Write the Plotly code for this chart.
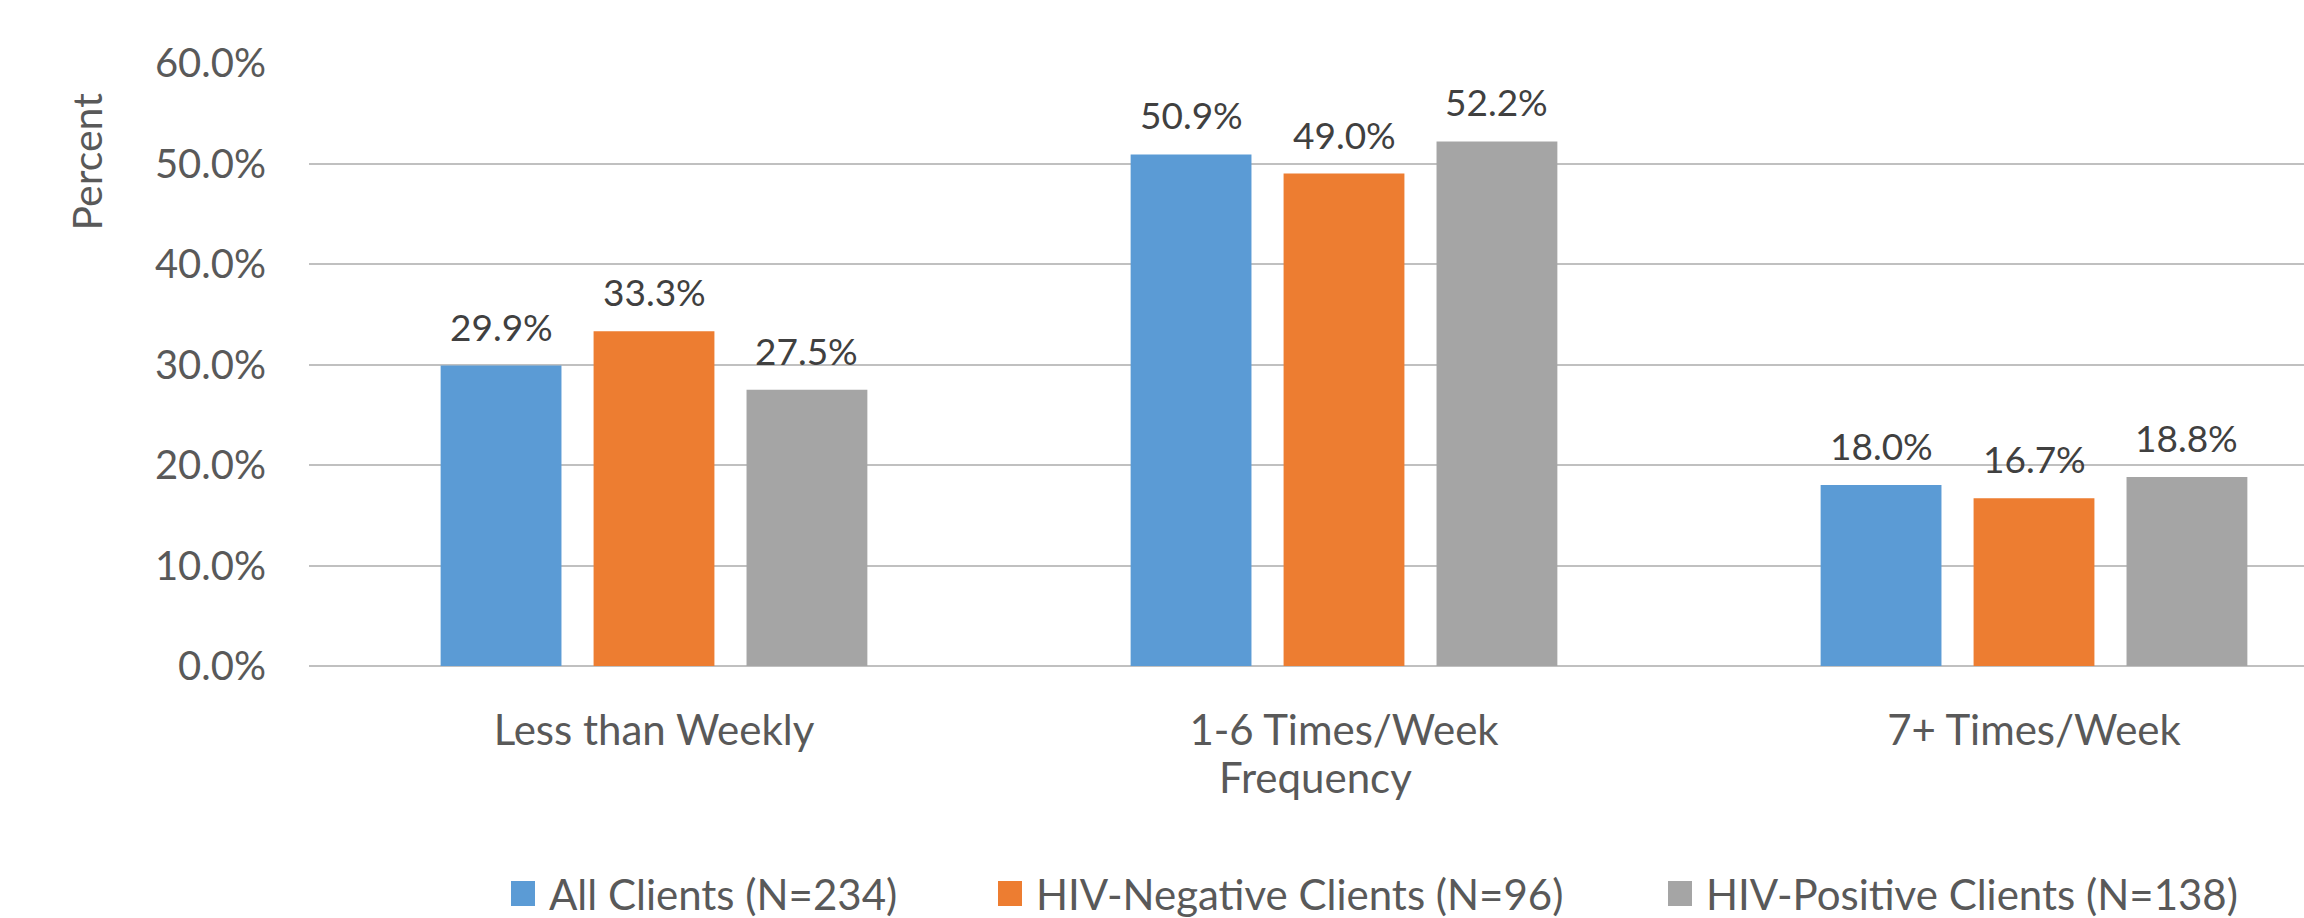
import plotly.graph_objects as go

categories = ["Less than Weekly", "1-6 Times/Week", "7+ Times/Week"]
series_names = ["All Clients (N=234)", "HIV-Negative Clients (N=96)", "HIV-Positive Clients (N=138)"]
all_clients = [29.9, 50.9, 18.0]
hiv_negative = [33.3, 49.0, 16.7]
hiv_positive = [27.5, 52.2, 18.8]
series_values = [all_clients, hiv_negative, hiv_positive]
colors = ["#5B9BD5", "#ED7D31", "#A5A5A5"]
y_ticks = [0, 10, 20, 30, 40, 50, 60]

W, H = 2304, 918
ML, MT, MB = 309, 63, 252
PLOT_W = W - ML
PLOT_H = H - MT - MB
CAT_PX = 690.0
BARGAP = 0.335
GROUPGAP = 0.21
FONT = "Lato"
TXT = "#595959"

def px_x(p):
    return (p - ML) / PLOT_W

def px_y(p):
    return (H - MB - p) / PLOT_H

xpos = list(range(len(categories)))
fig = go.Figure()
for name, vals, col in zip(series_names, series_values, colors):
    fig.add_trace(go.Bar(x=xpos, y=vals, name=name, marker=dict(color=col, line=dict(width=0)),
                         showlegend=False, hoverinfo="x+y"))

# data labels
n = len(series_values)
slot = (1 - BARGAP) / n
for j, vals in enumerate(series_values):
    for i, v in enumerate(vals):
        fig.add_annotation(x=i + (j - (n - 1) / 2) * slot, y=v, xref="x", yref="y",
                           text=f"{v:.1f}%", showarrow=False, yanchor="bottom", yshift=15,
                           font=dict(family=FONT, size=37, color="#404040"))

# axis titles
fig.add_annotation(x=px_x(1315), y=px_y(777.5), xref="paper", yref="paper", text="Frequency",
                   showarrow=False, xanchor="center", yanchor="middle",
                   font=dict(family=FONT, size=42, color=TXT))
fig.add_annotation(x=px_x(86), y=px_y(161.5), xref="paper", yref="paper", text="Percent",
                   textangle=-90, showarrow=False, xanchor="center", yanchor="middle",
                   font=dict(family=FONT, size=41, color=TXT))

# legend (manual)
leg_left = [511, 998, 1668]
for name, col, lx in zip(series_names, colors, leg_left):
    fig.add_shape(type="rect", xref="paper", yref="paper",
                  x0=px_x(lx), x1=px_x(lx + 24), y0=px_y(906), y1=px_y(881),
                  fillcolor=col, line=dict(width=0))
    fig.add_annotation(x=px_x(lx + 36), y=px_y(894), xref="paper", yref="paper", text=name,
                       showarrow=False, xanchor="left", yanchor="middle",
                       font=dict(family=FONT, size=42, color=TXT))

fig.update_layout(
    width=W, height=H,
    margin=dict(l=ML, r=0, t=MT, b=MB, pad=0),
    paper_bgcolor="white", plot_bgcolor="white",
    barmode="group", bargap=BARGAP, bargroupgap=GROUPGAP,
    font=dict(family=FONT, size=40, color=TXT),
    xaxis=dict(range=[-0.5, -0.5 + PLOT_W / CAT_PX], tickmode="array", tickvals=xpos,
               ticktext=categories, showgrid=False, zeroline=False, showline=False,
               ticks="", ticklabelstandoff=36, tickfont=dict(family=FONT, size=42, color=TXT)),
    yaxis=dict(range=[0, 60], tickmode="array", tickvals=y_ticks,
               ticktext=[f"{t:.1f}%" for t in y_ticks], showgrid=True, gridcolor="#C0C0C0",
               gridwidth=2, zeroline=True, zerolinecolor="#C0C0C0", zerolinewidth=2,
               showline=False, ticks="", ticklabelstandoff=42,
               tickfont=dict(family=FONT, size=40, color=TXT)),
)

fig.write_html("out.html", config={"displayModeBar": False},
               post_script="document.body.style.margin='0';")
